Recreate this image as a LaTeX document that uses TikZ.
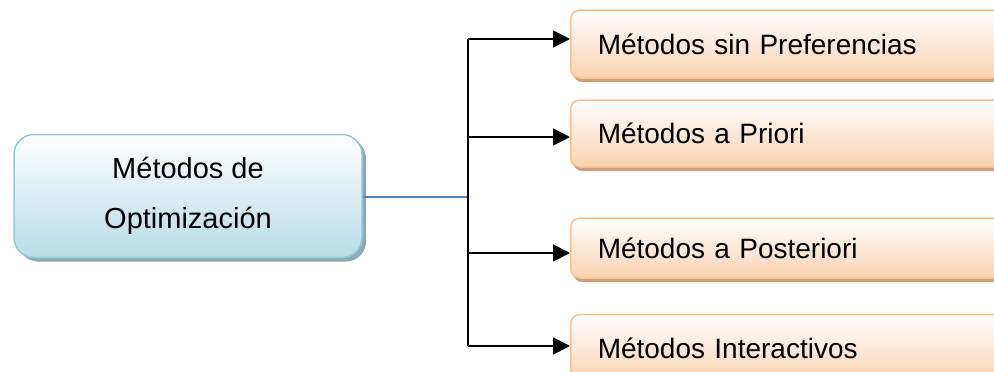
\documentclass[tikz,border=0pt]{standalone}
\usepackage{fontspec}
\setmainfont{Liberation Sans}
\usetikzlibrary{arrows.meta}
\definecolor{bluebd}{HTML}{93CADB}
\definecolor{bluebot}{HTML}{B5DCE6}
\definecolor{blueshadow}{HTML}{8FA8AF}
\definecolor{orbd}{HTML}{F9C08F}
\definecolor{orbot}{HTML}{FAD2B0}
\definecolor{orshadow}{HTML}{C9A083}
\definecolor{linkblue}{HTML}{4F81BD}
\tikzset{
  mainbox/.style={draw=bluebd, line width=1.5pt, rounded corners=20pt,
    top color=white, bottom color=bluebot, minimum width=348pt, minimum height=123pt,
    align=center, font=\fontsize{29}{50}\selectfont},
  mainshadow/.style={fill=blueshadow, rounded corners=20pt, minimum width=348pt, minimum height=123pt},
  subbox/.style={draw=orbd, line width=1.5pt, rounded corners=9pt,
    top color=white, bottom color=orbot, minimum width=440pt, anchor=west,
    align=left, text width=400pt, inner xsep=27pt, font=\fontsize{28}{32}\selectfont},
  subshadow/.style={fill=orshadow, rounded corners=9pt, minimum width=440pt, anchor=west},
  conn/.style={line width=1.8pt, black},
  arr/.style={conn, -{Triangle[length=17pt,width=17pt]}}
}
\begin{document}
\begin{tikzpicture}[x=1pt,y=-1pt]
\clip (0,0) rectangle (994,372);
\fill[white] (0,0) rectangle (994,372);
% main box
\node[mainshadow] at (192,200) {};
\node[mainbox] (m) at (188,196) {Métodos de\\Optimización};
% sub boxes shadows
\node[subshadow, minimum height=68pt] at (573,48) {};
\node[subshadow, minimum height=67pt] at (573,137.5) {};
\node[subshadow, minimum height=60pt] at (573,252) {};
\node[subshadow, minimum height=67pt] at (573,352) {};
% sub boxes
\node[subbox, minimum height=68pt] (s1) at (570,44) {Métodos sin Preferencias};
\node[subbox, minimum height=67pt] (s2) at (570,133.5) {Métodos a Priori};
\node[subbox, minimum height=60pt] (s3) at (570,248) {Métodos a Posteriori};
\node[subbox, minimum height=67pt] (s4) at (570,348) {Métodos Interactivos};
% connectors
\coordinate (top) at (468,39);
\coordinate (bot) at (468,346);
\coordinate (j) at (468,197);
\draw[linkblue, line width=1.2pt] (m.east |- j) -- (j);
\draw[conn] (top) -- (bot);
\draw[arr] (top) -- (s1.west |- top);
\draw[arr] (468,137) -- (s2.west |- 0,137);
\draw[arr] (468,253) -- (s3.west |- 0,253);
\draw[arr] (bot) -- (s4.west |- bot);
\end{tikzpicture}
\end{document}
